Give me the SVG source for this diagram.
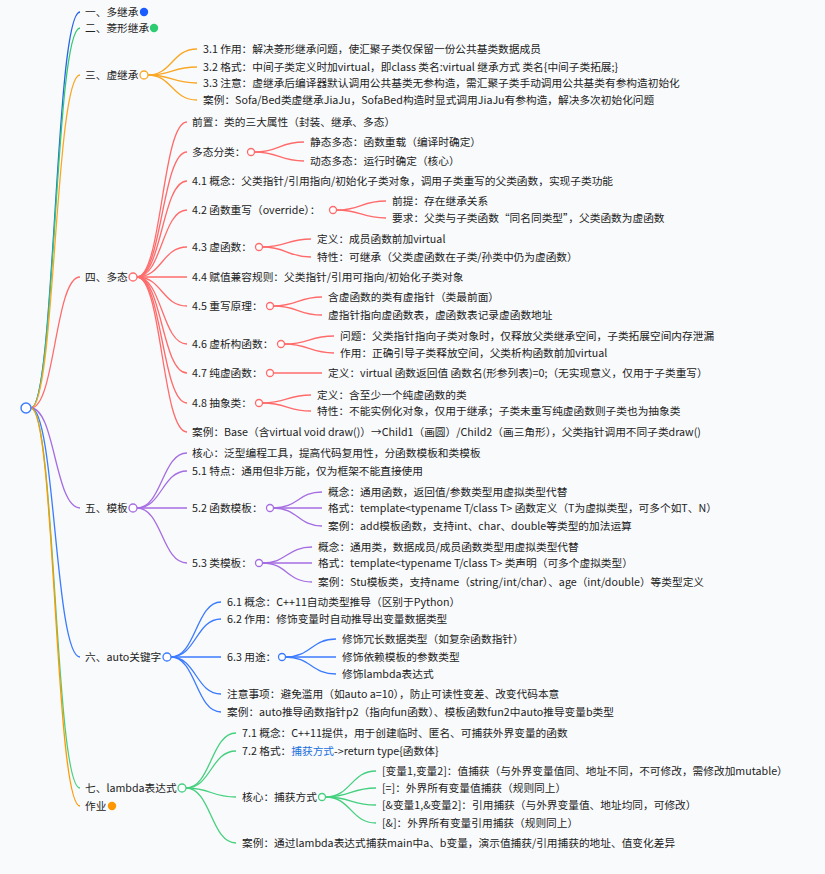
<svg xmlns="http://www.w3.org/2000/svg" width="825" height="874" viewBox="0 0 825 874">
<style>
text{font-family:"Noto Sans CJK SC","Liberation Sans",sans-serif;font-size:10.7px;fill:#222;}
.c{fill:none;stroke-width:1.3;}
.b1{stroke:#2563eb}.g1{stroke:#34c96f}.o1{stroke:#f9a825}.r{stroke:#ff6b6b}.p{stroke:#a56de2}.b2{stroke:#3b7bff}.g2{stroke:#45d07f}.o2{stroke:#ff9800}
.h{fill:#fff;stroke-width:1.3}
.lnk{fill:#1a6fdc}
</style>
<rect width="825" height="874" fill="#f9fafc"/>
<g id="connectors">
<path class="c b1" d="M31,408 C55,408 55,12 80,12"/>
<path class="c g1" d="M31,408 C55,408 55,28 80,28"/>
<path class="c o1" d="M31,408 C55,408 55,75 80,75"/>
<path class="c r" d="M31,408 C55,408 55,277 80,277"/>
<path class="c p" d="M31,408 C55,408 55,508 80,508"/>
<path class="c b2" d="M31,408 C55,408 55,657 80,657"/>
<path class="c g2" d="M31,408 C55,408 55,788 80,788"/>
<path class="c o2" d="M31,408 C55,408 55,806 80,806"/>
<!-- virtual inheritance -->
<path class="c o1" d="M148,75 C172,75 172,49 197,49"/>
<path class="c o1" d="M148,75 C172,75 172,67 197,67"/>
<path class="c o1" d="M148,75 C172,75 172,83 197,83"/>
<path class="c o1" d="M148,75 C172,75 172,100 197,100"/>
<!-- polymorphism -->
<path class="c r" d="M137,277 C162,277 162,122 187,122"/>
<path class="c r" d="M137,277 C162,277 162,152 187,152"/>
<path class="c r" d="M137,277 C162,277 162,181 187,181"/>
<path class="c r" d="M137,277 C162,277 162,210 187,210"/>
<path class="c r" d="M137,277 C162,277 162,247 187,247"/>
<path class="c r" d="M137,277 L187,277"/>
<path class="c r" d="M137,277 C162,277 162,306 187,306"/>
<path class="c r" d="M137,277 C162,277 162,344 187,344"/>
<path class="c r" d="M137,277 C162,277 162,373 187,373"/>
<path class="c r" d="M137,277 C162,277 162,403 187,403"/>
<path class="c r" d="M137,277 C162,277 162,432 187,432"/>
<path class="c r" d="M254.5,152 C279,152 279,142 304,142"/>
<path class="c r" d="M254.5,152 C279,152 279,161 304,161"/>
<path class="c r" d="M336.5,210 C361,210 361,201 386,201"/>
<path class="c r" d="M336.5,210 C361,210 361,218 386,218"/>
<path class="c r" d="M262.5,247 C287,247 287,239 311,239"/>
<path class="c r" d="M262.5,247 C287,247 287,257 311,257"/>
<path class="c r" d="M273.5,306 C298,306 298,297 322,297"/>
<path class="c r" d="M273.5,306 C298,306 298,315 322,315"/>
<path class="c r" d="M284.5,344 C309,344 309,336 334,336"/>
<path class="c r" d="M284.5,344 C309,344 309,353 334,353"/>
<path class="c r" d="M273.5,373 L322,373"/>
<path class="c r" d="M262.5,403 C287,403 287,395 311,395"/>
<path class="c r" d="M262.5,403 C287,403 287,411 311,411"/>
<!-- templates -->
<path class="c p" d="M137,508 C162,508 162,453 187,453"/>
<path class="c p" d="M137,508 C162,508 162,471 187,471"/>
<path class="c p" d="M137,508 L187,508"/>
<path class="c p" d="M137,508 C162,508 162,563 187,563"/>
<path class="c p" d="M273.5,508 C298,508 298,492 322,492"/>
<path class="c p" d="M273.5,508 L322,508"/>
<path class="c p" d="M273.5,508 C298,508 298,526 322,526"/>
<path class="c p" d="M262.5,563 C287,563 287,547 312,547"/>
<path class="c p" d="M262.5,563 L312,563"/>
<path class="c p" d="M262.5,563 C287,563 287,582 312,582"/>
<!-- auto -->
<path class="c b2" d="M171,657 C196,657 196,602 221,602"/>
<path class="c b2" d="M171,657 C196,657 196,619 221,619"/>
<path class="c b2" d="M171,657 L221,657"/>
<path class="c b2" d="M171,657 C196,657 196,694 221,694"/>
<path class="c b2" d="M171,657 C196,657 196,712 221,712"/>
<path class="c b2" d="M285.5,657 C311,657 311,639 336,639"/>
<path class="c b2" d="M285.5,657 L336,657"/>
<path class="c b2" d="M285.5,657 C311,657 311,674 336,674"/>
<!-- lambda -->
<path class="c g2" d="M186,788 C211,788 211,733 236,733"/>
<path class="c g2" d="M186,788 C211,788 211,751 236,751"/>
<path class="c g2" d="M186,788 C211,788 211,797 236,797"/>
<path class="c g2" d="M186,788 C211,788 211,843 236,843"/>
<path class="c g2" d="M325.5,797 C351,797 351,771 376,771"/>
<path class="c g2" d="M325.5,797 C351,797 351,788 376,788"/>
<path class="c g2" d="M325.5,797 C351,797 351,805 376,805"/>
<path class="c g2" d="M325.5,797 C351,797 351,823 376,823"/>
</g>

<g id="root"><circle cx="26" cy="408" r="5" fill="#fff" stroke="#3b7bff" stroke-width="1.4"/></g>

<g id="n1"><text x="85" y="16">一、多继承</text><circle cx="144" cy="12" r="4.2" fill="#1a5cff"/></g>
<g id="n2"><text x="85" y="32">二、菱形继承</text><circle cx="154" cy="28" r="4.2" fill="#2ecc71"/></g>

<g id="n3"><text x="85" y="79">三、虚继承</text><circle class="h o1" cx="144" cy="75" r="4"/></g>
<g id="n3-1"><text x="203" y="53">3.1 作用：解决菱形继承问题，使汇聚子类仅保留一份公共基类数据成员</text></g>
<g id="n3-2"><text x="203" y="71">3.2 格式：中间子类定义时加virtual，即class 类名:virtual 继承方式 类名{中间子类拓展;}</text></g>
<g id="n3-3"><text x="203" y="87">3.3 注意：虚继承后编译器默认调用公共基类无参构造，需汇聚子类手动调用公共基类有参构造初始化</text></g>
<g id="n3-4"><text x="203" y="104">案例：Sofa/Bed类虚继承JiaJu，SofaBed构造时显式调用JiaJu有参构造，解决多次初始化问题</text></g>

<g id="n4"><text x="85" y="281">四、多态</text><circle class="h r" cx="133" cy="277" r="4"/></g>
<g id="n4-0"><text x="192" y="126">前置：类的三大属性（封装、继承、多态）</text></g>
<g id="n4-c"><text x="192" y="156">多态分类：</text><circle class="h r" cx="251" cy="152" r="3.5"/></g>
<g id="n4-c1"><text x="310" y="146">静态多态：函数重载（编译时确定）</text></g>
<g id="n4-c2"><text x="310" y="165">动态多态：运行时确定（核心）</text></g>
<g id="n4-1"><text x="192" y="185">4.1 概念：父类指针/引用指向/初始化子类对象，调用子类重写的父类函数，实现子类功能</text></g>
<g id="n4-2"><text x="192" y="214">4.2 函数重写（override）：</text><circle class="h r" cx="333" cy="210" r="3.5"/></g>
<g id="n4-2a"><text x="392" y="205">前提：存在继承关系</text></g>
<g id="n4-2b"><text x="392" y="222">要求：父类与子类函数“同名同类型”，父类函数为虚函数</text></g>
<g id="n4-3"><text x="192" y="251">4.3 虚函数：</text><circle class="h r" cx="259" cy="247" r="3.5"/></g>
<g id="n4-3a"><text x="317" y="243">定义：成员函数前加virtual</text></g>
<g id="n4-3b"><text x="317" y="261">特性：可继承（父类虚函数在子类/孙类中仍为虚函数）</text></g>
<g id="n4-4"><text x="192" y="281">4.4 赋值兼容规则：父类指针/引用可指向/初始化子类对象</text></g>
<g id="n4-5"><text x="192" y="310">4.5 重写原理：</text><circle class="h r" cx="270" cy="306" r="3.5"/></g>
<g id="n4-5a"><text x="328" y="301">含虚函数的类有虚指针（类最前面）</text></g>
<g id="n4-5b"><text x="328" y="319">虚指针指向虚函数表，虚函数表记录虚函数地址</text></g>
<g id="n4-6"><text x="192" y="348">4.6 虚析构函数：</text><circle class="h r" cx="281" cy="344" r="3.5"/></g>
<g id="n4-6a"><text x="340" y="340">问题：父类指针指向子类对象时，仅释放父类继承空间，子类拓展空间内存泄漏</text></g>
<g id="n4-6b"><text x="340" y="357">作用：正确引导子类释放空间，父类析构函数前加virtual</text></g>
<g id="n4-7"><text x="192" y="377">4.7 纯虚函数：</text><circle class="h r" cx="270" cy="373" r="3.5"/></g>
<g id="n4-7a"><text x="328" y="377">定义：virtual 函数返回值 函数名(形参列表)=0;（无实现意义，仅用于子类重写）</text></g>
<g id="n4-8"><text x="192" y="407">4.8 抽象类：</text><circle class="h r" cx="259" cy="403" r="3.5"/></g>
<g id="n4-8a"><text x="317" y="399">定义：含至少一个纯虚函数的类</text></g>
<g id="n4-8b"><text x="317" y="415">特性：不能实例化对象，仅用于继承；子类未重写纯虚函数则子类也为抽象类</text></g>
<g id="n4-9"><text x="192" y="436">案例：Base（含virtual void draw()）→Child1（画圆）/Child2（画三角形），父类指针调用不同子类draw()</text></g>

<g id="n5"><text x="85" y="512">五、模板</text><circle class="h p" cx="133" cy="508" r="4"/></g>
<g id="n5-0"><text x="192" y="457">核心：泛型编程工具，提高代码复用性，分函数模板和类模板</text></g>
<g id="n5-1"><text x="192" y="475">5.1 特点：通用但非万能，仅为框架不能直接使用</text></g>
<g id="n5-2"><text x="192" y="512">5.2 函数模板：</text><circle class="h p" cx="270" cy="508" r="3.5"/></g>
<g id="n5-2a"><text x="328" y="496">概念：通用函数，返回值/参数类型用虚拟类型代替</text></g>
<g id="n5-2b"><text x="328" y="512">格式：template&lt;typename T/class T&gt; 函数定义（T为虚拟类型，可多个如T、N）</text></g>
<g id="n5-2c"><text x="328" y="530">案例：add模板函数，支持int、char、double等类型的加法运算</text></g>
<g id="n5-3"><text x="192" y="567">5.3 类模板：</text><circle class="h p" cx="259" cy="563" r="3.5"/></g>
<g id="n5-3a"><text x="318" y="551">概念：通用类，数据成员/成员函数类型用虚拟类型代替</text></g>
<g id="n5-3b"><text x="318" y="567">格式：template&lt;typename T/class T&gt; 类声明（可多个虚拟类型）</text></g>
<g id="n5-3c"><text x="318" y="586">案例：Stu模板类，支持name（string/int/char）、age（int/double）等类型定义</text></g>

<g id="n6"><text x="85" y="661">六、auto关键字</text><circle class="h b2" cx="167" cy="657" r="4"/></g>
<g id="n6-1"><text x="227" y="606">6.1 概念：C++11自动类型推导（区别于Python）</text></g>
<g id="n6-2"><text x="227" y="623">6.2 作用：修饰变量时自动推导出变量数据类型</text></g>
<g id="n6-3"><text x="227" y="661">6.3 用途：</text><circle class="h b2" cx="282" cy="657" r="3.5"/></g>
<g id="n6-3a"><text x="342" y="643">修饰冗长数据类型（如复杂函数指针）</text></g>
<g id="n6-3b"><text x="342" y="661">修饰依赖模板的参数类型</text></g>
<g id="n6-3c"><text x="342" y="678">修饰lambda表达式</text></g>
<g id="n6-4"><text x="227" y="698">注意事项：避免滥用（如auto a=10），防止可读性变差、改变代码本意</text></g>
<g id="n6-5"><text x="227" y="716">案例：auto推导函数指针p2（指向fun函数）、模板函数fun2中auto推导变量b类型</text></g>

<g id="n7"><text x="85" y="792">七、lambda表达式</text><circle class="h g2" cx="182" cy="788" r="4"/></g>
<g id="n7-1"><text x="242" y="737">7.1 概念：C++11提供，用于创建临时、匿名、可捕获外界变量的函数</text></g>
<g id="n7-2"><text x="242" y="755">7.2 格式：<tspan class="lnk">捕获方式</tspan>-&gt;return type{函数体}</text></g>
<g id="n7-3"><text x="242" y="801">核心：捕获方式</text><circle class="h g2" cx="322" cy="797" r="3.5"/></g>
<g id="n7-3a"><text x="382" y="775">[变量1,变量2]：值捕获（与外界变量值同、地址不同，不可修改，需修改加mutable）</text></g>
<g id="n7-3b"><text x="382" y="792">[=]：外界所有变量值捕获（规则同上）</text></g>
<g id="n7-3c"><text x="382" y="809">[&amp;变量1,&amp;变量2]：引用捕获（与外界变量值、地址均同，可修改）</text></g>
<g id="n7-3d"><text x="382" y="827">[&amp;]：外界所有变量引用捕获（规则同上）</text></g>
<g id="n7-4"><text x="242" y="847">案例：通过lambda表达式捕获main中a、b变量，演示值捕获/引用捕获的地址、值变化差异</text></g>

<g id="n8"><text x="85" y="810">作业</text><circle cx="112" cy="806" r="4.2" fill="#ff9800"/></g>
</svg>
